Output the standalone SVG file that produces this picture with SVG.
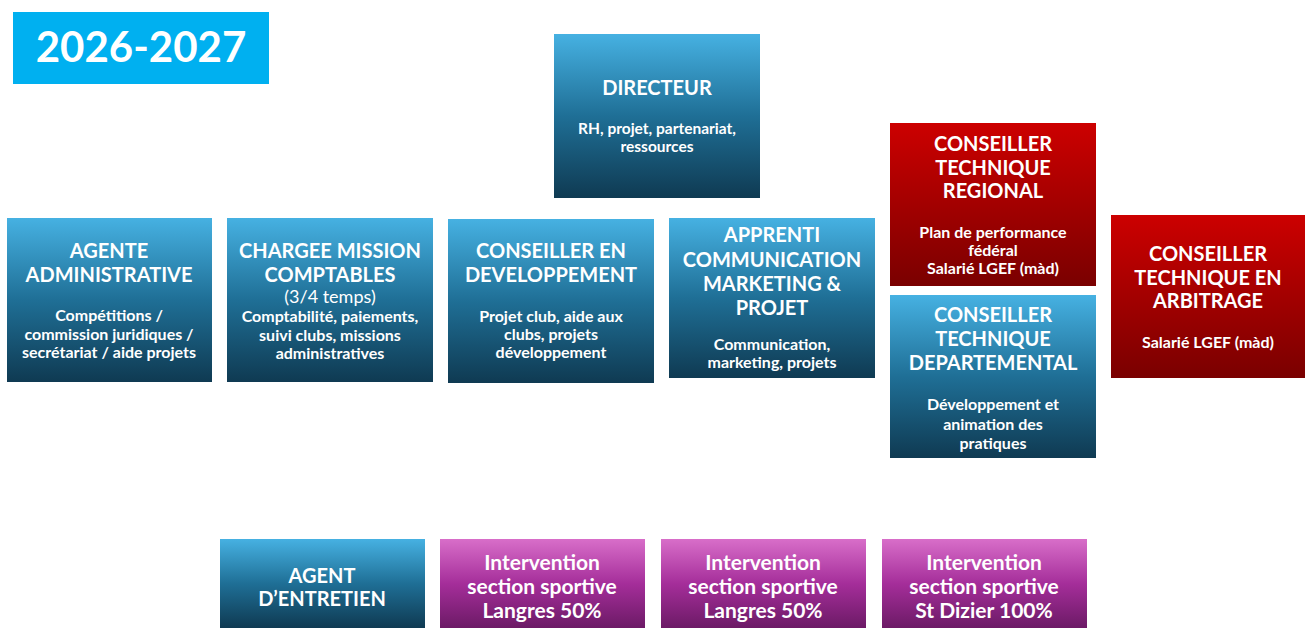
<svg xmlns="http://www.w3.org/2000/svg" width="1305" height="628" viewBox="0 0 1305 628">
<defs>
<linearGradient id="gb" x1="0" y1="0" x2="0" y2="1"><stop offset="0" stop-color="#46b1e2"/><stop offset="0.5" stop-color="#1f6f96"/><stop offset="1" stop-color="#0f3a52"/></linearGradient>
<linearGradient id="gr" x1="0" y1="0" x2="0" y2="1"><stop offset="0" stop-color="#cc0000"/><stop offset="1" stop-color="#7a0000"/></linearGradient>
<linearGradient id="gp" x1="0" y1="0" x2="0" y2="1"><stop offset="0" stop-color="#d86ec9"/><stop offset="0.5" stop-color="#a52e9a"/><stop offset="1" stop-color="#6c1a66"/></linearGradient>
</defs>
<style>
text{font-family:Lato,"Open Sans","Liberation Sans",sans-serif;font-weight:bold;fill:#fff;text-anchor:middle}
.h{font-size:20px}
.s{font-size:16px}
.p{font-size:21px}
.b{fill:url(#gb)}
.r{fill:url(#gr)}
.m{fill:url(#gp)}
</style>
<rect width="1305" height="628" fill="#fff"/>
<g id="title">
<rect x="13" y="12" width="256" height="72" fill="#00b0f0"/>
<text x="141" y="62" style="font-size:42px">2026-2027</text>
</g>
<g id="connectors"/>
<g id="directeur">
<rect class="b" x="554" y="34" width="206" height="164"/>
<text class="h" x="657" y="95">DIRECTEUR</text>
<text class="s" x="657" y="134" style="font-size:15.5px">RH, projet, partenariat,</text>
<text class="s" x="657" y="152" style="font-size:15.5px">ressources</text>
</g>
<g id="agente">
<rect class="b" x="7" y="218" width="205" height="164"/>
<text class="h" x="109" y="258">AGENTE</text>
<text class="h" x="109" y="282">ADMINISTRATIVE</text>
<text class="s" x="109" y="321">Compétitions /</text>
<text class="s" x="109" y="340">commission juridiques /</text>
<text class="s" x="109" y="358">secrétariat / aide projets</text>
</g>
<g id="chargee">
<rect class="b" x="227" y="218" width="206" height="164"/>
<text class="h" x="330" y="258">CHARGEE MISSION</text>
<text class="h" x="330" y="282">COMPTABLES</text>
<text x="330" y="303" style="font-size:18px;font-weight:normal">(3/4 temps)</text>
<text class="s" x="330" y="322">Comptabilité, paiements,</text>
<text class="s" x="330" y="341">suivi clubs, missions</text>
<text class="s" x="330" y="359">administratives</text>
</g>
<g id="conseiller-dev">
<rect class="b" x="448" y="219" width="206" height="164"/>
<text class="h" x="551" y="258">CONSEILLER EN</text>
<text class="h" x="551" y="282">DEVELOPPEMENT</text>
<text class="s" x="551" y="322">Projet club, aide aux</text>
<text class="s" x="551" y="340">clubs, projets</text>
<text class="s" x="551" y="358">développement</text>
</g>
<g id="apprenti">
<rect class="b" x="669" y="218" width="206" height="160"/>
<text class="h" x="772" y="242">APPRENTI</text>
<text class="h" x="772" y="267">COMMUNICATION</text>
<text class="h" x="772" y="291">MARKETING &amp;</text>
<text class="h" x="772" y="315">PROJET</text>
<text class="s" x="772" y="350">Communication,</text>
<text class="s" x="772" y="368">marketing, projets</text>
</g>
<g id="ctr">
<rect class="r" x="890" y="123" width="206" height="163"/>
<text class="h" x="993" y="151">CONSEILLER</text>
<text class="h" x="993" y="175">TECHNIQUE</text>
<text class="h" x="993" y="198">REGIONAL</text>
<text class="s" x="993" y="238">Plan de performance</text>
<text class="s" x="993" y="256">fédéral</text>
<text class="s" x="993" y="274">Salarié LGEF (màd)</text>
</g>
<g id="ctd">
<rect class="b" x="890" y="295" width="206" height="163"/>
<text class="h" x="993" y="322">CONSEILLER</text>
<text class="h" x="993" y="346">TECHNIQUE</text>
<text class="h" x="993" y="370">DEPARTEMENTAL</text>
<text class="s" x="993" y="410">Développement et</text>
<text class="s" x="993" y="430">animation des</text>
<text class="s" x="993" y="449">pratiques</text>
</g>
<g id="cta">
<rect class="r" x="1111" y="215" width="194" height="163"/>
<text class="h" x="1208" y="261">CONSEILLER</text>
<text class="h" x="1208" y="285">TECHNIQUE EN</text>
<text class="h" x="1208" y="308">ARBITRAGE</text>
<text class="s" x="1208" y="348">Salarié LGEF (màd)</text>
</g>
<g id="agent-entretien">
<rect class="b" x="220" y="539" width="205" height="89"/>
<text class="h" x="322" y="583">AGENT</text>
<text class="h" x="322" y="606">D’ENTRETIEN</text>
</g>
<g id="intervention-1">
<rect class="m" x="440" y="539" width="205" height="89"/>
<text class="p" x="542" y="570">Intervention</text>
<text class="p" x="542" y="594">section sportive</text>
<text class="p" x="542" y="618">Langres 50%</text>
</g>
<g id="intervention-2">
<rect class="m" x="661" y="539" width="205" height="89"/>
<text class="p" x="763" y="570">Intervention</text>
<text class="p" x="763" y="594">section sportive</text>
<text class="p" x="763" y="618">Langres 50%</text>
</g>
<g id="intervention-3">
<rect class="m" x="882" y="539" width="205" height="89"/>
<text class="p" x="984" y="570">Intervention</text>
<text class="p" x="984" y="594">section sportive</text>
<text class="p" x="984" y="618">St Dizier 100%</text>
</g>
</svg>
